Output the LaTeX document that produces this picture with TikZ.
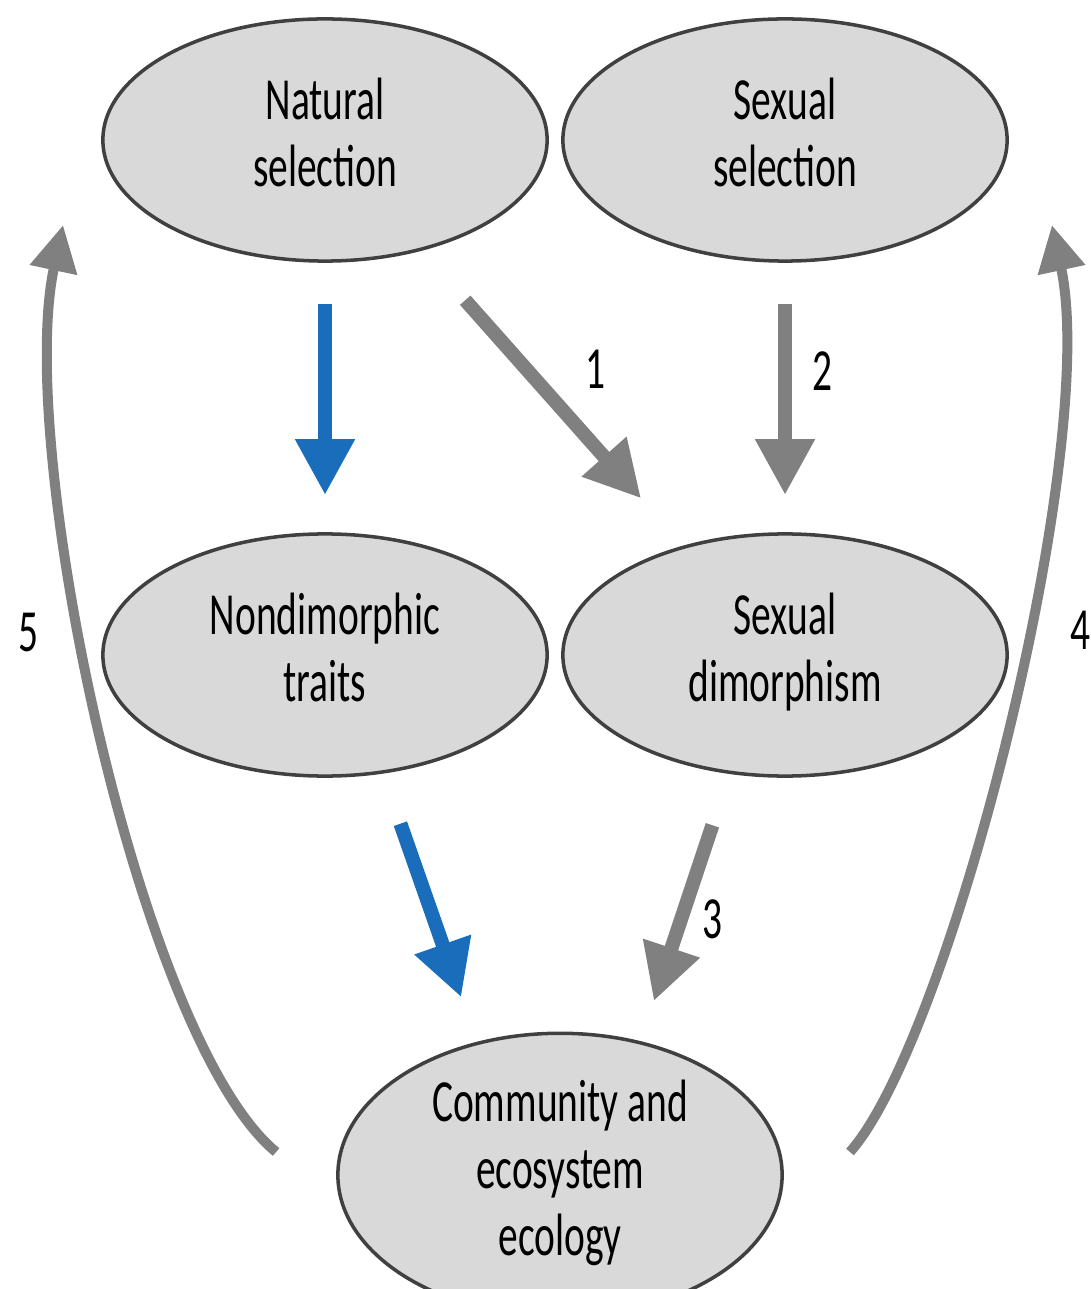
\documentclass[tikz,border=0pt]{standalone}
\usepackage{fontspec}
\setmainfont{Carlito}
\usetikzlibrary{arrows.meta,shapes.geometric}
\definecolor{bxfill}{HTML}{D9D9D9}
\definecolor{bxline}{HTML}{404040}
\definecolor{arrgray}{HTML}{808080}
\definecolor{arrblue}{HTML}{1A6DBA}
\newcommand{\lbl}[1]{\scalebox{0.66}[1]{\begin{tabular}{@{}c@{}}#1\end{tabular}}}
\tikzset{
  oval/.style={ellipse,draw=bxline,fill=bxfill,line width=1pt,minimum width=4.44cm,minimum height=2.42cm,inner sep=0pt,font=\fontsize{17}{19}\selectfont},
  fat/.style={draw=arrgray,line width=0.14cm,line cap=butt,-{Triangle[width=0.56cm,length=0.56cm]}},
  bluefat/.style={fat,draw=arrblue},
  curve/.style={draw=arrgray,line width=0.1cm,line cap=butt,-{Triangle[width=0.46cm,length=0.46cm]}},
  num/.style={font=\fontsize{17}{19}\selectfont,inner sep=0pt}
}
\begin{document}
\begin{tikzpicture}[line cap=round,line join=round,x=0.01cm,y=-0.01cm]
			\useasboundingbox (0,0) rectangle (1090,1289);
			\node[oval] (nat) at (325,140) {\lbl{Natural\\selection}};
			\node[oval] (sex) at (785,140) {\lbl{Sexual\\selection}};
			\node[oval] (nondi) at (325,655) {\lbl{Nondimorphic\\traits}};
			\node[oval] (dimo) at (785,655) {\lbl{Sexual\\dimorphism}};
			\node[oval] (comm) at (560,1175) {\lbl{Community and\\ecosystem\\ecology}};
			\draw[bluefat,shorten <=0.41cm,shorten >=0.37cm] (nat.south) -- (nondi.north);
			\draw[fat,shorten <=0.66cm,shorten >=0.63cm] (nat.-49.4) -- (dimo.133.1);
			\draw[fat,shorten <=0.41cm,shorten >=0.37cm] (sex.south) -- (dimo.north);
			\draw[bluefat,shorten <=0.53cm,shorten >=0.47cm] (nondi.-64.2) -- (comm.122.1);
			\draw[fat,shorten <=0.54cm,shorten >=0.42cm] (dimo.-115.2) -- (comm.59);
			\draw[curve] ([xshift=-0.6cm,yshift=0.23cm]comm.west) .. controls (140,1040) and (15,450) .. ([xshift=-0.38cm,yshift=-0.85cm]nat.west);
			\draw[curve] ([xshift=0.66cm,yshift=0.23cm]comm.east) .. controls (950,1040) and (1100,450) .. ([xshift=0.43cm,yshift=-0.85cm]sex.east);
			\node[num] (l1) at (595,375) {\lbl{1}};
			\node[num] (l2) at (822,377) {\lbl{2}};
			\node[num] (l3) at (712,925) {\lbl{3}};
			\node[num] (l4) at (1080,636) {\lbl{4}};
			\node[num] (l5) at (28,638) {\lbl{5}};
\end{tikzpicture}
\end{document}
